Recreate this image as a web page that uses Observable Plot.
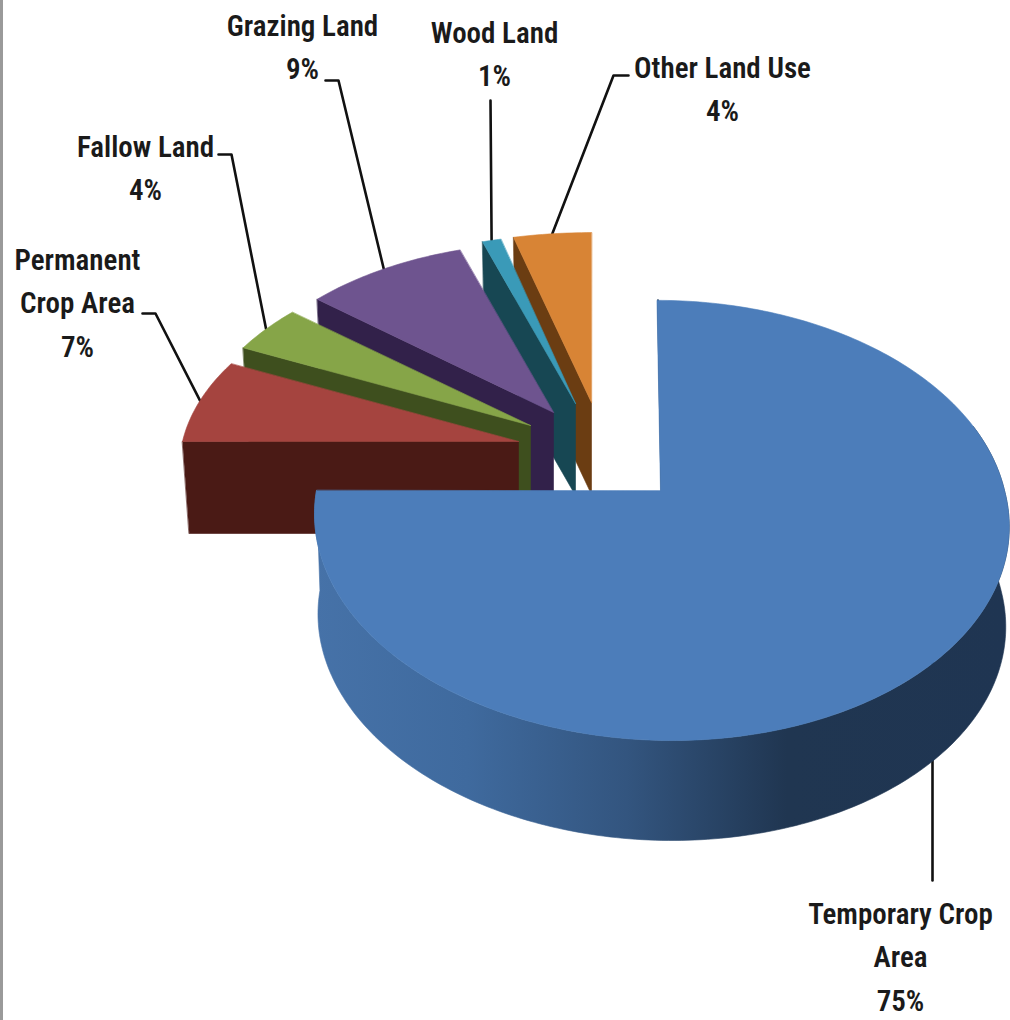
<!DOCTYPE html>
<html>
<head>
<meta charset="utf-8">
<style>
  html, body { margin: 0; padding: 0; background: #fff; }
  svg { display: block; }
</style>
<script src="https://cdn.jsdelivr.net/npm/d3@7"></script>
<script src="https://cdn.jsdelivr.net/npm/@observablehq/plot@0.6"></script>
</head>
<body>
<div id="chart"></div>
<script>
// ---- chart values ----
const categories = ["Temporary Crop Area", "Permanent Crop Area", "Fallow Land", "Grazing Land", "Wood Land", "Other Land Use"];
const values = [75, 7, 4, 9, 1, 4];
const labelTexts = ["Temporary Crop\nArea\n75%", "Permanent\nCrop Area\n7%", "Fallow Land\n4%", "Grazing Land\n9%", "Wood Land\n1%", "Other Land Use\n4%"];

// ---- styles and layout (not data) ----
const topColors = ["#4c7dba", "#a5443f", "#86a548", "#6e548f", "#3a9ab8", "#d88435"];
const sideColors = ["#1f3552", "#4a1a15", "#3e4f1e", "#32214a", "#174753", "#6b3d12"];
const apexX = [660, 518, 530, 553, 575, 591];
const apexY = [490, 441, 425, 412, 403, 402];
const radiusX = [344, 336, 336, 330, 340, 355];
const radiusY = [216, 193, 193, 193, 192, 193];
const leanBack = [4, 0, 0, 4, 0, 0];
const leanFront = [10, 0, 0, 0, 0, 0];
const depths = [100, 92, 92, 92, 92, 92];
const bottomScale = [0.99, 0.98, 0.98, 0.98, 0.98, 0.98];
const tilt = 0.136;
const labelX = [900, 77, 145, 302, 494, 722];
const labelY = [953, 299, 164, 43, 50, 85];
const elbowX = [932, 155, 231, 338, 490, 613];
const elbowY = [880, 313, 154, 80, 100, 75];
const stubX = [null, 142, 218, 325, null, 628];

// ---- geometry: data value -> angle -> projected point ----
const total = d3.sum(values);
const cum = [0, ...d3.cumsum(values)];
const angle = v => 2 * Math.PI * v / total;

function project(i, a) {
  const X = Math.sin(a), Y = Math.cos(a), w = 1 + tilt * Y;
  const q = Y / w;
  return {
    x: apexX[i] + radiusX[i] * X / w - (Y > 0 ? leanBack[i] : leanFront[i]) * q,
    y: apexY[i] - radiusY[i] * q
  };
}
function projectBottom(i, a) {
  const p = project(i, a);
  const s = bottomScale[i];
  return {
    x: apexX[i] + (p.x - apexX[i]) * s,
    y: apexY[i] + depths[i] + (p.y - apexY[i]) * (i === 0 ? 1 : s)
  };
}
function arc(i, a0, a1, fn = project) {
  const n = Math.max(8, Math.ceil(Math.abs(a1 - a0) * 60));
  return d3.range(n + 1).map(k => fn(i, a0 + (a1 - a0) * k / n));
}
const poly = (pts, fill) => Plot.line(pts, {
  x: "x", y: "y", fill, stroke: fill, strokeWidth: 0.6, curve: "linear-closed"
});

const marks = [];

// page edge
marks.push(Plot.ruleX([1], {stroke: "#9a9a9a", strokeWidth: 3}));

// gradient used by the big slice's wall
marks.push(() => {
  const defs = d3.create("svg:defs");
  const g = defs.append("linearGradient").attr("id", "wall")
    .attr("gradientUnits", "userSpaceOnUse")
    .attr("x1", 314).attr("x2", 1008).attr("y1", 0).attr("y2", 0);
  [[0, "#4672a8"], [0.22, "#3f6a9e"], [0.45, "#33557f"], [0.68, "#203651"], [1, "#1f3552"]]
    .forEach(([o, c]) => g.append("stop").attr("offset", o).attr("stop-color", c));
  return defs.node();
});

// leaders, under the slices
categories.forEach((_, i) => {
  const mid = project(i, angle((cum[i] + cum[i + 1]) / 2));
  const start = i === 0 ? {x: elbowX[i], y: mid.y} : mid;
  const pts = [start, {x: elbowX[i], y: elbowY[i]}];
  if (stubX[i] != null) pts.push({x: stubX[i], y: elbowY[i]});
  marks.push(Plot.line(pts, {x: "x", y: "y", stroke: "#111", strokeWidth: 2.6}));
});

// exploded slices, back to front
for (let i = categories.length - 1; i >= 1; i--) {
  const a0 = angle(cum[i]), a1 = angle(cum[i + 1]);
  const apex = {x: apexX[i], y: apexY[i]};
  const apexB = {x: apexX[i], y: apexY[i] + depths[i]};
  marks.push(poly([project(i, a0), apex, apexB, projectBottom(i, a0)], sideColors[i]));
  marks.push(poly([apex, ...arc(i, a0, a1)], topColors[i]));
}

// main slice: wall then top
{
  const a1 = angle(cum[1]);
  const wallStart = angle(total * 0.2);
  marks.push(poly([...arc(0, wallStart, a1, projectBottom), ...arc(0, a1, wallStart)], "url(#wall)"));
  marks.push(Plot.line([project(0, 0), {x: apexX[0], y: apexY[0]}], {x: "x", y: "y", stroke: sideColors[0], strokeWidth: 2, dx: 1}));
  marks.push(poly([{x: apexX[0], y: apexY[0]}, ...arc(0, 0, a1)], topColors[0]));
}

// labels
marks.push(Plot.text(labelTexts, {
  x: (_, i) => labelX[i],
  y: (_, i) => labelY[i],
  text: d => d,
  textAnchor: "middle",
  lineAnchor: "middle",
  lineHeight: 1.5,
  fontSize: 29,
  fontWeight: 600,
  fontFamily: "'Liberation Sans Narrow', 'Roboto Condensed', 'DejaVu Sans Condensed', sans-serif",
  fill: "#1a1a1a"
}));

const chart = Plot.plot({
  width: 1010,
  height: 1020,
  margin: 0,
  style: {background: "#fff"},
  x: {domain: [0, 1010], range: [0, 1010], axis: null},
  y: {domain: [0, 1020], range: [0, 1020], axis: null},
  marks
});
document.getElementById("chart").append(chart);
</script>
</body>
</html>
